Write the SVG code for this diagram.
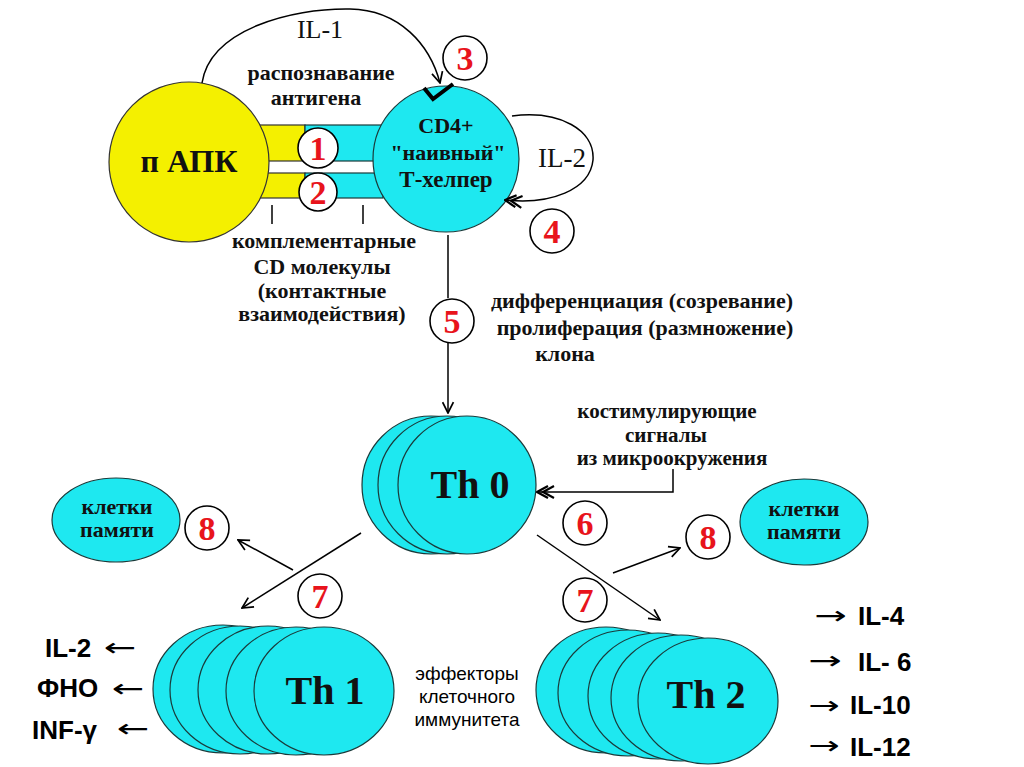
<svg xmlns="http://www.w3.org/2000/svg" width="1024" height="767" viewBox="0 0 1024 767">
<defs>
<style>
.ser{font-family:"Liberation Serif","Times New Roman",serif;font-weight:bold;fill:#111;}
.reg{font-family:"Liberation Serif","Times New Roman",serif;fill:#111;}
.sans{font-family:"Liberation Sans",Arial,sans-serif;fill:#000;font-size:26px;font-weight:bold;}
.ar{font-family:"DejaVu Sans",sans-serif;font-weight:normal;font-size:25px;fill:#000;}
.num{font-family:"Liberation Serif","Times New Roman",serif;font-weight:bold;font-size:34px;fill:#e8141c;text-anchor:middle;}
.nc{fill:#fff;stroke:#000;stroke-width:1.6;}
.cy{fill:#1ee8f0;stroke:#1a3a3a;stroke-width:1.2;}
.ye{fill:#f4f000;stroke:#333;stroke-width:1.2;}
.ln{fill:none;stroke:#000;stroke-width:1.5;}
.mid{text-anchor:middle;}
.eff{font-family:"Liberation Sans",Arial,sans-serif;font-size:19px;fill:#000;text-anchor:middle;}
</style>
<marker id="arr" viewBox="0 0 12 12" refX="11" refY="6" markerWidth="13" markerHeight="13" markerUnits="userSpaceOnUse" orient="auto"><path d="M1,1 L11,6 L1,11" fill="none" stroke="#000" stroke-width="1.6"/></marker>
<marker id="dbl" viewBox="0 0 20 14" refX="19" refY="7" markerWidth="20" markerHeight="14" markerUnits="userSpaceOnUse" orient="auto"><path d="M8,1 L19,7 L8,13 M2,1 L13,7 L2,13" fill="none" stroke="#000" stroke-width="2.2"/></marker>
</defs>
<rect width="1024" height="767" fill="#fff"/>

<g id="bands">
<rect class="ye" x="240" y="125" width="65" height="36"/>
<rect class="cy" x="305" y="125" width="78" height="36"/>
<rect class="ye" x="240" y="173" width="65" height="25"/>
<rect class="cy" x="305" y="173" width="78" height="25"/>
</g>

<g id="apc">
<circle class="ye" cx="189" cy="162" r="80"/>
<text class="ser mid" x="189" y="172" font-size="32">п АПК</text>
</g>

<g id="cd4">
<circle class="cy" cx="446" cy="159" r="73"/>
<text class="ser mid" x="446" y="133" font-size="22">CD4+</text>
<text class="ser mid" x="448" y="160" font-size="22">"наивный"</text>
<text class="ser mid" x="446" y="187" font-size="23">Т-хелпер</text>
</g>

<g id="connectors">
<path class="ln" d="M202,83 C210,30 290,8 350,9 C400,10 430,45 440,83" marker-end="url(#arr)"/>
<path d="M424,88 L433,99 L453,84" fill="none" stroke="#000" stroke-width="4"/>
<path class="ln" d="M512,116 C560,110 595,130 593,160 C590,190 550,205 505,200" marker-end="url(#dbl)"/>
<line class="ln" x1="272" y1="205" x2="272" y2="224"/>
<line class="ln" x1="363" y1="205" x2="363" y2="224"/>
<line class="ln" x1="448" y1="235" x2="448" y2="298"/>
<line class="ln" x1="448" y1="343" x2="448" y2="413" marker-end="url(#arr)"/>
<polyline class="ln" points="673,469 673,492 537,492" marker-end="url(#dbl)"/>
<line class="ln" x1="361" y1="533" x2="242" y2="608" marker-end="url(#arr)"/>
<line class="ln" x1="293" y1="570" x2="238" y2="540" marker-end="url(#arr)"/>
<line class="ln" x1="537" y1="535" x2="660" y2="620" marker-end="url(#arr)"/>
<line class="ln" x1="613" y1="573" x2="680" y2="548" marker-end="url(#arr)"/>
</g>

<g id="labels">
<text class="reg mid" x="320" y="38" font-size="26">IL-1</text>
<text class="ser mid" x="321" y="80" font-size="22">распознавание</text>
<text class="ser mid" x="316" y="105" font-size="22">антигена</text>
<text class="reg mid" x="562" y="167" font-size="27">IL-2</text>
<text class="ser mid" x="324" y="248" font-size="22">комплементарные</text>
<text class="ser mid" x="322" y="274" font-size="22">CD молекулы</text>
<text class="ser mid" x="322" y="298" font-size="22">(контактные</text>
<text class="ser mid" x="322" y="321" font-size="22">взаимодействия)</text>
<text class="ser mid" x="642" y="308" font-size="22">дифференциация (созревание)</text>
<text class="ser mid" x="645" y="335" font-size="22">пролиферация (размножение)</text>
<text class="ser mid" x="565" y="361" font-size="22">клона</text>
<text class="ser mid" x="667" y="418" font-size="21">костимулирующие</text>
<text class="ser mid" x="666" y="442" font-size="21">сигналы</text>
<text class="ser mid" x="672" y="465" font-size="21">из микроокружения</text>
<text class="eff" x="467" y="680">эффекторы</text>
<text class="eff" x="467" y="703">клеточного</text>
<text class="eff" x="467" y="726">иммунитета</text>
</g>

<g id="n1"><circle class="nc" cx="318" cy="148" r="20"/><text class="num" x="318" y="160">1</text></g>
<g id="n2"><circle class="nc" cx="318" cy="192" r="19"/><text class="num" x="318" y="204">2</text></g>
<g id="n3"><circle class="nc" cx="465" cy="58" r="22"/><text class="num" x="465" y="70">3</text></g>
<g id="n4"><circle class="nc" cx="552" cy="231" r="22"/><text class="num" x="552" y="243">4</text></g>
<g id="n5"><circle class="nc" cx="452" cy="321" r="22"/><text class="num" x="452" y="333">5</text></g>
<g id="n6"><circle class="nc" cx="585" cy="523" r="22"/><text class="num" x="585" y="535">6</text></g>
<g id="n8a"><circle class="nc" cx="207" cy="528" r="22"/><text class="num" x="207" y="540">8</text></g>
<g id="n8b"><circle class="nc" cx="708" cy="537" r="22"/><text class="num" x="708" y="549">8</text></g>
<g id="n7a"><circle class="nc" cx="320" cy="596" r="22"/><text class="num" x="320" y="608">7</text></g>
<g id="n7b"><circle class="nc" cx="585" cy="600" r="22"/><text class="num" x="585" y="612">7</text></g>

<g id="th0">
<ellipse class="cy" cx="431" cy="485" rx="69" ry="69"/>
<ellipse class="cy" cx="447" cy="485" rx="69" ry="69"/>
<ellipse class="cy" cx="467" cy="485" rx="69" ry="69"/>
<text class="ser mid" x="470" y="498" font-size="40">Th 0</text>
</g>

<g id="mem1">
<ellipse class="cy" cx="116" cy="520" rx="64" ry="42"/>
<text class="ser mid" x="117" y="514" font-size="22">клетки</text>
<text class="ser mid" x="117" y="537" font-size="22">памяти</text>
</g>

<g id="mem2">
<ellipse class="cy" cx="804" cy="522" rx="64" ry="43"/>
<text class="ser mid" x="804" y="516" font-size="22">клетки</text>
<text class="ser mid" x="804" y="539" font-size="22">памяти</text>
</g>

<g id="th1">
<ellipse class="cy" cx="223" cy="689" rx="70" ry="64"/>
<ellipse class="cy" cx="240" cy="690" rx="70" ry="64"/>
<ellipse class="cy" cx="268" cy="690" rx="70" ry="64"/>
<ellipse class="cy" cx="296" cy="691" rx="70" ry="64"/>
<ellipse class="cy" cx="324" cy="691" rx="70" ry="64"/>
<text class="ser mid" x="325" y="704" font-size="40">Th 1</text>
</g>

<g id="th2">
<ellipse class="cy" cx="606" cy="690" rx="70" ry="63"/>
<ellipse class="cy" cx="628" cy="693" rx="70" ry="63"/>
<ellipse class="cy" cx="658" cy="696" rx="70" ry="63"/>
<ellipse class="cy" cx="681" cy="698" rx="70" ry="63"/>
<ellipse class="cy" cx="708" cy="701" rx="70" ry="63"/>
<text class="ser mid" x="706" y="708" font-size="40">Th 2</text>
</g>

<g id="th1-out">
<text class="sans" x="45" y="657">IL-2</text>
<text class="ar" transform="translate(104,656) scale(1.55,1)">←</text>
<text class="sans" x="37" y="697">ФНО</text>
<text class="ar" transform="translate(112,697) scale(1.55,1)">←</text>
<text class="sans" x="32" y="739">INF-γ</text>
<text class="ar" transform="translate(117,737) scale(1.55,1)">←</text>
</g>

<g id="th2-out">
<text class="ar" transform="translate(814,624) scale(1.55,1)">→</text>
<text class="sans" x="858" y="625">IL-4</text>
<text class="ar" transform="translate(808,669) scale(1.6,1)">→</text>
<text class="sans" x="858" y="671">IL- 6</text>
<text class="ar" transform="translate(808,714) scale(1.5,1)">→</text>
<text class="sans" x="850" y="714">IL-10</text>
<text class="ar" transform="translate(808,754) scale(1.5,1)">→</text>
<text class="sans" x="850" y="756">IL-12</text>
</g>
</svg>
